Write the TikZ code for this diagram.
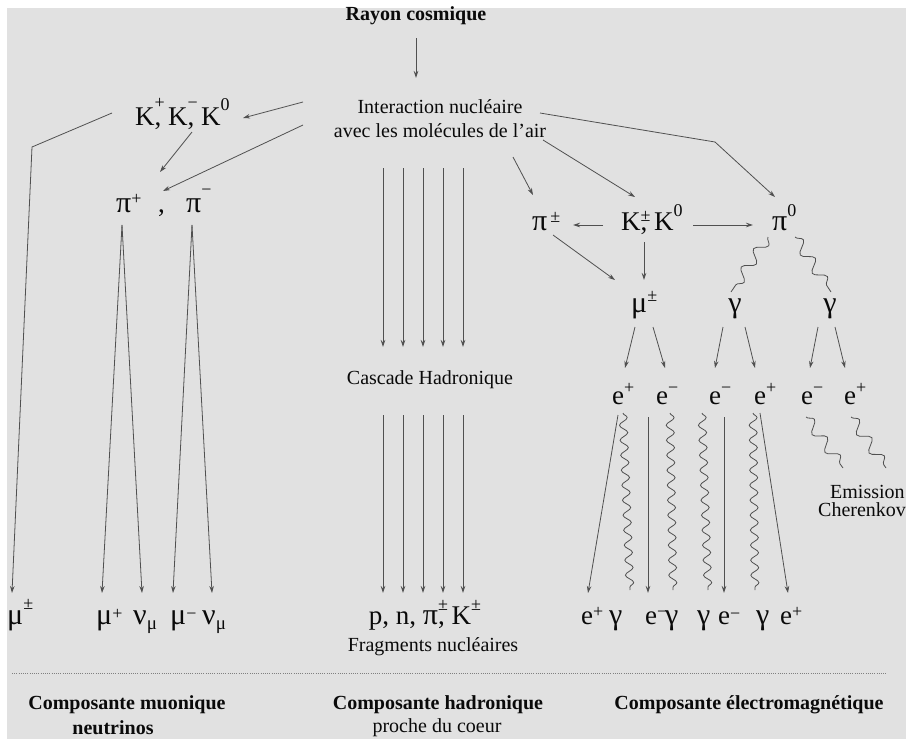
\documentclass[tikz,border=0pt]{standalone}
\usepackage{fontspec}
\setmainfont{Liberation Serif}
\usetikzlibrary{arrows.meta,decorations.pathmorphing}
\definecolor{bggray}{RGB}{225,225,225}
\definecolor{lncol}{RGB}{80,80,80}
\definecolor{txtcol}{RGB}{10,10,10}
\newcommand\supx[2][12pt]{\raisebox{#1}{\fontsize{18}{18}\selectfont #2}}
\newcommand\subx[2][5pt]{\raisebox{-#1}{\fontsize{19}{19}\selectfont #2}}
\newcommand\gk[1]{{\fontsize{30}{30}\selectfont #1}}
\begin{document}
\begin{tikzpicture}[x=1pt,y=-1pt,
  lbl/.style={inner sep=0pt, text=txtcol, font=\fontsize{20}{24}\selectfont},
  blbl/.style={inner sep=0pt, text=txtcol, font=\fontsize{20}{24}\selectfont\bfseries},
  part/.style={inner sep=0pt, anchor=base west, text=txtcol, font=\fontsize{27}{30}\selectfont},
  arr/.style={draw=lncol, line width=0.8pt, -{Stealth[length=7pt,width=4.5pt]}},
  wavy/.style={draw=lncol, line width=0.8pt, decorate, decoration={snake, segment length=15pt, amplitude=4pt}},
  wavyL/.style={draw=lncol, line width=0.8pt, decorate, decoration={snake, segment length=22pt, amplitude=5.5pt}},
  dotline/.style={draw=gray, line width=0.9pt, dash pattern=on 0.9pt off 1.3pt}]
\useasboundingbox (0,0) rectangle (906,739);
\fill[white] (0,0) rectangle (906,739);
\fill[bggray] (7,8) rectangle (906,739);
\begin{scope}
\clip (0,0) rectangle (906,739);
% ---------- text nodes ----------
\node[blbl] (ray) at (416,16) {Rayon cosmique};
\node[lbl, align=center] (inter) at (440,119) {Interaction nucléaire\\avec les molécules de l’air};
\node[part] (kl) at (135,125) {K\rlap{\supx[17pt]{+}}, K\rlap{\supx[17pt]{−}}, K\supx[15pt]{0}};
\node[part] (piP) at (116,212) {\gk{π}\supx[8pt]{+}};
\node[part] (comma) at (158,212) {,};
\node[part] (piM) at (186,212) {\gk{π}\supx[17pt]{−}};
\node[lbl] (cascade) at (430,380) {Cascade Hadronique};
\node[part, anchor=base] (frag1) at (425,624) {p, n, \gk{π}\rlap{\supx[14pt]{±}}, K\supx[14pt]{±}};
\node[lbl] (frag2) at (433,647) {Fragments nucléaires};
\node[part] (piPM) at (532,230) {\gk{π}\hspace{3pt}\supx[8pt]{±}};
\node[part] (Kr) at (621,230) {K\rlap{\supx[9pt]{±}}, K\supx[14pt]{0}};
\node[part] (pi0) at (772,230) {\gk{π}\supx[14pt]{0}};
\node[part] (muR) at (631,312) {\gk{μ}\supx[11pt]{±}};
\node[part, anchor=base] (g1) at (735,312) {\gk{γ}};
\node[part, anchor=base] (g2) at (830,312) {\gk{γ}};
\node[part] (e1) at (612,404) {e\supx[11pt]{+}};
\node[part] (e2) at (656,404) {e\supx[11pt]{−}};
\node[part] (e3) at (709,404) {e\supx[11pt]{−}};
\node[part] (e4) at (754,404) {e\supx[11pt]{+}};
\node[part] (e5) at (801,404) {e\supx[11pt]{−}};
\node[part] (e6) at (844,404) {e\supx[11pt]{+}};
\node[lbl, anchor=west] (emis) at (830,492) {Emission};
\node[lbl, anchor=west] (cher) at (818,510) {Cherenkov};
% bottom particle row
\node[part] (mL) at (7,624) {\gk{μ}\supx[15pt]{±}};
\node[part] (mP) at (96,624) {\gk{μ}\supx[5pt]{+}};
\node[part] (nu1) at (133,624) {\gk{ν}\subx{μ}};
\node[part] (mM) at (170,624) {\gk{μ}\supx[5pt]{−}};
\node[part] (nu2) at (202,624) {\gk{ν}\subx{μ}};
\node[part] (b1) at (581,624) {e\supx[7pt]{+}};
\node[part] (b2) at (609,624) {\gk{γ}};
\node[part] (b3) at (645,624) {e\supx[7pt]{−}};
\node[part] (b4) at (665,624) {\gk{γ}};
\node[part] (b5) at (697,624) {\gk{γ}};
\node[part] (b6) at (718,624) {e\supx[5pt]{−}};
\node[part] (b7) at (756,624) {\gk{γ}};
\node[part] (b8) at (780,624) {e\supx[7pt]{+}};
% bottom categories
\node[blbl] (compA) at (127,705) {Composante muonique};
\node[blbl] (compA2) at (113,728) {neutrinos};
\node[blbl] (compB) at (438,705) {Composante hadronique};
\node[lbl] (compB2) at (437,728) {proche du coeur};
\node[blbl] (compC) at (749,705) {Composante électromagnétique};
% ---------- connector end points ----------
\coordinate (r1) at (416,38);   \coordinate (r2) at (416,78);
\coordinate (i1) at (303,102);  \coordinate (k1) at (243,118);
\coordinate (i2) at (303,125);  \coordinate (p1) at (163,191);
\coordinate (k2) at (192,132);  \coordinate (p2) at (160,172);
\coordinate (k3) at (112,113);  \coordinate (k3b) at (32,147); \coordinate (mL1) at (12,593);
\coordinate (pa) at (122,225);  \coordinate (mP1) at (102,593); \coordinate (nu11) at (142,593);
\coordinate (pb) at (192,225);  \coordinate (mM1) at (173,593); \coordinate (nu21) at (212,593);
\coordinate (i3) at (513,157);  \coordinate (q1) at (533,195);
\coordinate (i4) at (543,140);  \coordinate (q2) at (635,197);
\coordinate (i5) at (540,113);  \coordinate (i5b) at (715,142); \coordinate (q3) at (775,197);
\coordinate (kr1) at (603,225); \coordinate (q4) at (573,225);
\coordinate (kr2) at (693,225); \coordinate (q5) at (753,225);
\coordinate (pp1) at (553,235); \coordinate (q6) at (615,280);
\coordinate (kr3) at (644,242); \coordinate (q7) at (644,280);
\coordinate (z1) at (768,237);  \coordinate (y1) at (731,292);
\coordinate (z2) at (795,237);  \coordinate (y2) at (831,292);
% ---------- connectors ----------
\draw[arr] (r1) -- (r2);
\draw[arr] (i1) -- (k1);
\draw[arr] (i2) -- (p1);
\draw[arr] (k2) -- (p2);
\draw[arr] (k3) -- (k3b) -- (mL1);
\draw[arr] (pa) -- (mP1);
\draw[arr] (pa) -- (nu11);
\draw[arr] (pb) -- (mM1);
\draw[arr] (pb) -- (nu21);
\foreach \x [count=\n] in {383,403,423,443,463}{
  \coordinate (ha\n) at (\x,168); \coordinate (hb\n) at (\x,347);
  \coordinate (hc\n) at (\x,415); \coordinate (hd\n) at (\x,593);
  \draw[arr] (ha\n) -- (hb\n);
  \draw[arr] (hc\n) -- (hd\n);
}
\draw[arr] (i3) -- (q1);
\draw[arr] (i4) -- (q2);
\draw[arr] (i5) -- (i5b) -- (q3);
\draw[arr] (kr1) -- (q4);
\draw[arr] (kr2) -- (q5);
\draw[arr] (pp1) -- (q6);
\draw[arr] (kr3) -- (q7);
\draw[wavyL] (z1) -- (y1);
\draw[wavyL] (z2) -- (y2);
% decays to e pairs
\foreach \a/\b/\c/\d [count=\n] in {635/327/625/368, 653/327/665/368, 723/327/715/368, 745/327/755/368, 818/327/810/368, 835/327/845/368}{
  \coordinate (da\n) at (\a,\b); \coordinate (db\n) at (\c,\d);
  \draw[arr] (da\n) -- (db\n);
}
% lower electromagnetic cascade
\foreach \a/\b/\c/\d [count=\n] in {618/415/588/593, 648/417/648/593, 724/417/724/593, 760/413/788/593}{
  \coordinate (ea\n) at (\a,\b); \coordinate (eb\n) at (\c,\d);
  \draw[arr] (ea\n) -- (eb\n);
}
\foreach \a/\b/\c/\d [count=\n] in {623/413/630/590, 670/413/673/590, 702/413/708/590, 753/413/755/590}{
  \coordinate (wa\n) at (\a,\b); \coordinate (wb\n) at (\c,\d);
  \draw[wavy] (wa\n) -- (wb\n);
}
\coordinate (ch1) at (806,417); \coordinate (ch1b) at (843,468);
\coordinate (ch2) at (851,417); \coordinate (ch2b) at (886,468);
\draw[wavyL] (ch1) -- (ch1b);
\draw[wavyL] (ch2) -- (ch2b);
% dotted separator
\coordinate (dl1) at (12,673); \coordinate (dl2) at (886,673);
\draw[dotline] (dl1) -- (dl2);
\end{scope}
\end{tikzpicture}
\end{document}
